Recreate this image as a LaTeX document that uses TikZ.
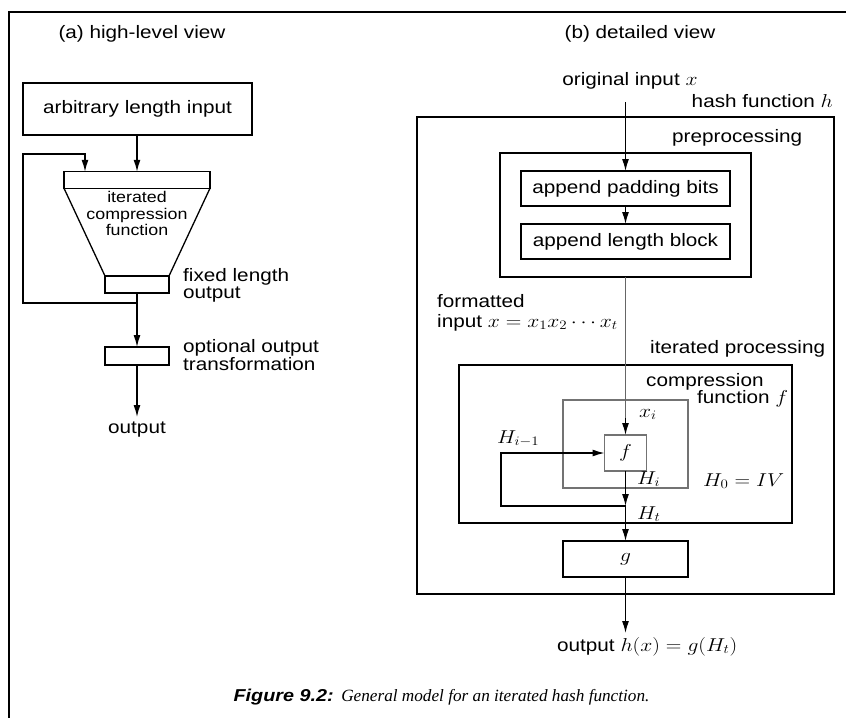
\documentclass[tikz,border=0pt]{standalone}
\usepackage{fontspec}
\setmainfont{Liberation Sans}[FakeStretch=1.15]
\newfontfamily\capserif{Liberation Serif}
\usetikzlibrary{arrows.meta}
\newcommand\mstr[1]{\scalebox{1.25}[1.08]{$#1$}}
\tikzset{
  bx/.style={draw, line width=1.3pt, inner sep=0pt, outer sep=0pt},
  gbx/.style={draw=black!55, line width=1.1pt, inner sep=0pt, outer sep=0pt},
  arr/.style={-{Latex[length=12pt,width=7pt]}, line width=1.3pt},
  lbl/.style={inner sep=0pt, anchor=base west},
  clbl/.style={inner sep=0pt, anchor=base},
  small/.style={font=\fontsize{15.5}{16}\selectfont},
}
\begin{document}
\begin{tikzpicture}[x=1pt,y=-1pt,font=\fontsize{18}{18}\selectfont]
\useasboundingbox (0,0) rectangle (846,718);
% frame
\draw[line width=2pt] (846,11.5) -- (9,11.5) -- (9,718);

% ---------------- (a) ----------------
\node[clbl] (ta) at (142,38) {(a) high-level view};
\node[bx, minimum width=229pt, minimum height=52pt] (inbox) at (137.5,109) {arbitrary length input};
\node[bx, minimum width=146pt, minimum height=16.5pt] (top) at (137,180) {};
\node[bx, minimum width=64pt, minimum height=17pt] (bot) at (137,284.5) {};
\draw[line width=1.3pt] (top.south west) -- (bot.north west);
\draw[line width=1.3pt] (top.south east) -- (bot.north east);
\node[clbl, small] (ic1) at (137,202) {iterated};
\node[clbl, small] (ic2) at (137,219) {compression};
\node[clbl, small] (ic3) at (137,235) {function};
\node[lbl] (fl1) at (183,281) {fixed length};
\node[lbl] (fl2) at (183,298) {output};
\node[bx, minimum width=64pt, minimum height=18pt] (opt) at (137,356) {};
\node[lbl] (oo1) at (183,352) {optional output};
\node[lbl] (oo2) at (183,370) {transformation};
\node[clbl] (outa) at (137,433) {output};
\coordinate (j1) at (137,303);
\coordinate (lp1) at (23,303);
\coordinate (lp2) at (85,154);
\coordinate (otip) at (137,417);
\draw[arr] (inbox.south -| top.north) -- (top.north);
\draw[line width=1.3pt] (bot.south) -- (j1);
\draw[arr] (j1) -- (lp1) |- (lp2) -- (lp2 |- top.north);
\draw[arr] (j1) -- (opt.north);
\draw[arr] (opt.south) -- (otip);

% ---------------- (b) ----------------
\node[clbl] (tb) at (640,38) {(b) detailed view};
\node[clbl] (oin) at (630,85) {original input \mstr{x}};
\node[inner sep=0pt, anchor=base east] (hf) at (833,107) {hash function \mstr{h}};
\node[bx, minimum width=417pt, minimum height=477pt] (hbox) at (625.5,355.5) {};
\node[lbl] (pp) at (672,142) {preprocessing};
\node[bx, minimum width=251pt, minimum height=124pt] (pre) at (625.5,215) {};
\node[bx, minimum width=209pt, minimum height=35pt] (pad) at (625.5,188.5) {append padding bits};
\node[bx, minimum width=209pt, minimum height=35pt] (len) at (625.5,241.5) {append length block};
\node[lbl] (fm1) at (437,307) {formatted};
\node[lbl] (fm2) at (437,327) {input \mstr{x=x_1x_2\cdots x_t}};
\node[lbl] (ip) at (650,353) {iterated processing};
\node[bx, minimum width=333pt, minimum height=158pt] (itp) at (625.5,444) {};
\node[lbl] (cf1) at (646,386) {compression};
\node[lbl] (cf2) at (697,403) {function \mstr{f}};
\node[gbx, minimum width=125pt, minimum height=88pt] (cfb) at (625.5,444) {};
\node[gbx, minimum width=42pt, minimum height=36pt] (fb) at (625.5,453) {\mstr{f}};
\node[bx, minimum width=125pt, minimum height=36pt] (gb) at (625.5,559) {\mstr{g}};
\node[lbl] (xi) at (639,417) {\mstr{x_i}};
\node[lbl] (him) at (497,443) {\mstr{H_{i-1}}};
\node[lbl] (hi) at (637,484) {\mstr{H_i}};
\node[lbl] (h0) at (703,486) {\mstr{H_0=IV}};
\node[lbl] (ht) at (637,519) {\mstr{H_t}};
\node[lbl] (outb) at (557,651) {output \mstr{h(x)=g(H_t)}};
\coordinate (inx) at (625.5,102);
\coordinate (xa) at (625.5,418);
\coordinate (j2) at (625.5,506);
\coordinate (lq1) at (501,506);
\coordinate (otb) at (625.5,633);
\draw[arr] (inx) -- (pad.north);
\draw[arr] (pad.south) -- (len.north);
\draw[line width=0.9pt, black!60] (pre.south) -- (xa);
\draw[arr] (xa) -- (fb.north);
\draw[arr] (fb.south) -- (j2);
\draw[arr] (j2) -- (lq1) |- (fb.west);
\draw[arr] (j2) -- (gb.north);
\draw[arr] (gb.south) -- (otb);

% caption
\node[clbl] (cap) at (441.5,701) {{\bfseries\itshape\fontsize{17.2}{17.2}\selectfont Figure 9.2:} {\capserif\itshape\fontsize{17.2}{17.2}\selectfont General model for an iterated hash function.}};
\end{tikzpicture}
\end{document}
